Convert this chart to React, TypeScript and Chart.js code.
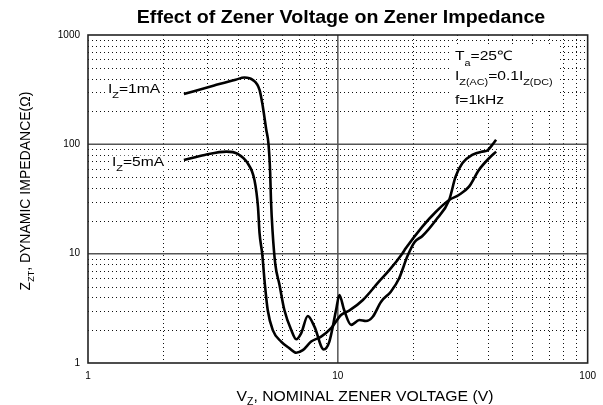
import React, { useEffect, useRef } from 'react';
import { Chart, registerables } from 'chart.js';

Chart.register(...registerables);

const TITLE = 'Effect of Zener Voltage on Zener Impedance';
const X_TICKS = [1, 10, 100];
const Y_TICKS = [1, 10, 100, 1000];

// I_Z = 1 mA
const V_1MA = [2.42, 3.2, 3.9, 4.23, 4.57, 4.86, 5.01, 5.17, 5.28, 5.36, 5.4, 5.48, 5.62, 5.84, 6.11, 6.51, 6.81, 7.13, 7.58, 8.06, 8.78, 9.25, 9.84, 10.14, 10.6, 11.3, 12.2, 12.96, 13.8, 14.9, 16.3, 17.6, 19.0, 20.3, 21.8, 24.7, 27.9, 29.6, 31.5, 34.5, 37.8, 39.6, 41.5, 43.0];
const Z_1MA = [289, 345, 390, 408, 388, 315, 221, 136, 100, 55, 31, 16, 8, 5.2, 3.05, 2.0, 1.65, 1.87, 2.69, 2.15, 1.33, 1.57, 3.05, 4.19, 3.05, 2.23, 2.47, 2.42, 2.65, 3.64, 4.49, 5.96, 9.5, 12.8, 14.5, 20.3, 31, 50.6, 67.2, 80, 85.8, 87.6, 98.8, 110];

// I_Z = 5 mA
const V_5MA = [2.42, 2.93, 3.58, 3.98, 4.36, 4.64, 4.79, 4.86, 4.98, 5.1, 5.24, 5.49, 5.93, 6.41, 6.81, 7.24, 7.82, 8.57, 9.4, 10.3, 11.1, 12.6, 14.6, 16.1, 18.1, 18.7, 21.8, 24.7, 27.9, 30.5, 33.5, 36.7, 40.3, 43.0];
const Z_5MA = [72, 80, 85.8, 81.7, 67, 47, 26.9, 15.4, 10, 5.36, 3.05, 2.0, 1.57, 1.36, 1.24, 1.31, 1.57, 1.74, 2.08, 2.75, 3.01, 3.77, 5.54, 7.1, 10, 11.2, 17.7, 24.2, 31, 34.4, 41, 58.3, 74.6, 85.8];

const FAMILY = '"Liberation Sans", Arial, Helvetica, sans-serif';

type Part = { t: string; sub?: boolean };

function partsWidth(ctx: CanvasRenderingContext2D, parts: Part[], size: number, subSize: number, weight: string) {
  let w = 0;
  for (const p of parts) {
    ctx.font = `${weight} ${p.sub ? subSize : size}px ${FAMILY}`;
    w += ctx.measureText(p.t).width;
  }
  return w;
}

function drawRich(
  ctx: CanvasRenderingContext2D,
  parts: Part[],
  x: number,
  y: number,
  o: { size: number; subSize?: number; subDy?: number; sx?: number; align?: 'left' | 'center'; weight?: string; rotate?: boolean; erase?: boolean }
) {
  const size = o.size;
  const subSize = o.subSize ?? Math.round(size * 0.65);
  const subDy = o.subDy ?? 4;
  const sx = o.sx ?? 1;
  const weight = o.weight ?? 'normal';
  ctx.save();
  ctx.translate(x, y);
  ctx.scale(sx, 1);
  if (o.rotate) ctx.rotate(-Math.PI / 2);
  const w = partsWidth(ctx, parts, size, subSize, weight);
  let cx = o.align === 'center' ? -w / 2 : 0;
  if (o.erase) {
    ctx.fillStyle = '#fff';
    ctx.fillRect(cx - 2, -size * 0.8, w + 4, size * 1.2);
  }
  ctx.textAlign = 'left';
  ctx.textBaseline = 'alphabetic';
  ctx.fillStyle = '#000';
  for (const p of parts) {
    ctx.font = `${weight} ${p.sub ? subSize : size}px ${FAMILY}`;
    ctx.fillText(p.t, cx, p.sub ? subDy : 0);
    cx += ctx.measureText(p.t).width;
  }
  ctx.restore();
}

const isDecade = (v: number) => Math.abs(Math.log10(v) - Math.round(Math.log10(v))) < 1e-9;

const decorPlugin = {
  id: 'decor',
  beforeDatasetsDraw(chart: any) {
    const ctx: CanvasRenderingContext2D = chart.ctx;
    const xs = chart.scales.x;
    const ys = chart.scales.y;
    const { left, right, top, bottom } = chart.chartArea;
    ctx.save();
    // minor dotted grid
    ctx.strokeStyle = '#111';
    ctx.lineWidth = 1;
    ctx.setLineDash([1, 3]);
    for (const d of [1, 10]) {
      for (let m = 2; m <= 9; m++) {
        const px = Math.round(xs.getPixelForValue(m * d)) + 0.5;
        ctx.beginPath();
        ctx.moveTo(px, top);
        ctx.lineTo(px, bottom);
        ctx.stroke();
      }
    }
    for (const d of [1, 10, 100]) {
      for (let m = 2; m <= 9; m++) {
        const py = Math.round(ys.getPixelForValue(m * d)) + 0.5;
        ctx.beginPath();
        ctx.moveTo(left, py);
        ctx.lineTo(right, py);
        ctx.stroke();
      }
    }
    // major solid grid
    ctx.setLineDash([]);
    ctx.strokeStyle = '#555';
    ctx.lineWidth = 1.5;
    for (const v of X_TICKS.slice(1, -1)) {
      const px = xs.getPixelForValue(v);
      ctx.beginPath();
      ctx.moveTo(px, top);
      ctx.lineTo(px, bottom);
      ctx.stroke();
    }
    for (const v of Y_TICKS.slice(1, -1)) {
      const py = ys.getPixelForValue(v);
      ctx.beginPath();
      ctx.moveTo(left, py);
      ctx.lineTo(right, py);
      ctx.stroke();
    }
    // frame
    ctx.strokeStyle = '#222';
    ctx.lineWidth = 1.6;
    ctx.strokeRect(left, top, right - left, bottom - top);

    // condition box
    ctx.fillStyle = '#fff';
    ctx.fillRect(450, 45, 108, 65);
    const lsz = 13;
    const lsx = 1.2;
    drawRich(ctx, [{ t: 'T' }, { t: 'a', sub: true }, { t: '=25℃' }], 455, 60, { size: lsz, subSize: 9, subDy: 6, sx: lsx });
    drawRich(ctx, [{ t: 'I' }, { t: 'Z(AC)', sub: true }, { t: '=0.1I' }, { t: 'Z(DC)', sub: true }], 455, 79.5, { size: lsz, subSize: 9, subDy: 5, sx: lsx });
    drawRich(ctx, [{ t: 'f=1kHz' }], 455, 104, { size: lsz, sx: lsx });

    // curve labels
    drawRich(ctx, [{ t: 'I' }, { t: 'Z', sub: true }, { t: '=1mA' }], 108, 93, { size: lsz, subSize: 9, subDy: 4.5, sx: lsx, erase: true });
    drawRich(ctx, [{ t: 'I' }, { t: 'Z', sub: true }, { t: '=5mA' }], 112, 166, { size: lsz, subSize: 9, subDy: 4.5, sx: lsx, erase: true });
    ctx.restore();
  },
  afterDraw(chart: any) {
    const ctx: CanvasRenderingContext2D = chart.ctx;
    drawRich(ctx, [{ t: TITLE }], 341, 22.5, { size: 18, weight: 'bold', sx: 1.09, align: 'center' });
    drawRich(ctx, [{ t: 'V' }, { t: 'Z', sub: true }, { t: ', NOMINAL ZENER VOLTAGE (V)' }], 365, 401, { size: 15, subSize: 10, subDy: 4, sx: 1.05, align: 'center' });
    drawRich(ctx, [{ t: 'Z' }, { t: 'ZT', sub: true }, { t: ', DYNAMIC IMPEDANCE(Ω)' }], 30, 191, { size: 14, subSize: 9, subDy: 4, sx: 1.05, align: 'center', rotate: true });
  },
};

export default function App() {
  const ref = useRef<HTMLCanvasElement>(null);
  useEffect(() => {
    if (!ref.current) return;
    const chart = new Chart(ref.current, {
      type: 'scatter',
      data: {
        datasets: [
          {
            label: 'IZ=1mA',
            data: V_1MA.map((v, i) => ({ x: v, y: Z_1MA[i] })),
            showLine: true,
            borderColor: '#000',
            backgroundColor: '#000',
            borderWidth: 2.6,
            pointRadius: 0,
            cubicInterpolationMode: 'monotone',
            fill: false,
          },
          {
            label: 'IZ=5mA',
            data: V_5MA.map((v, i) => ({ x: v, y: Z_5MA[i] })),
            showLine: true,
            borderColor: '#000',
            backgroundColor: '#000',
            borderWidth: 2.6,
            pointRadius: 0,
            cubicInterpolationMode: 'monotone',
            fill: false,
          },
        ],
      },
      options: {
        responsive: false,
        animation: false,
        events: [],
        layout: { padding: { left: 0, top: 35, right: 14, bottom: 0 } },
        plugins: { legend: { display: false }, tooltip: { enabled: false }, title: { display: false } },
        scales: {
          x: {
            type: 'logarithmic',
            min: 1,
            max: 100,
            grid: { display: false, drawTicks: false, tickLength: 0 },
            border: { display: false },
            ticks: {
              autoSkip: false,
              maxRotation: 0,
              padding: 7,
              color: '#000',
              font: { size: 10, family: FAMILY },
              callback: (v: any) => (isDecade(Number(v)) && X_TICKS.includes(Math.round(Number(v))) ? String(Math.round(Number(v))) : ''),
            },
            afterFit: (s: any) => {
              s.height = 42;
            },
          },
          y: {
            type: 'logarithmic',
            min: 1,
            max: 1000,
            grid: { display: false, drawTicks: false, tickLength: 0 },
            border: { display: false },
            ticks: {
              autoSkip: false,
              padding: 8,
              color: '#000',
              font: { size: 10, family: FAMILY },
              callback: (v: any) => (isDecade(Number(v)) && Y_TICKS.includes(Math.round(Number(v))) ? String(Math.round(Number(v))) : ''),
            },
            afterFit: (s: any) => {
              s.width = 88;
            },
          },
        },
      },
      plugins: [decorPlugin],
    } as any);
    return () => chart.destroy();
  }, []);
  return (
    <div style={{ position: 'fixed', left: 0, top: 0, width: 603, height: 405, background: '#fff' }}>
      <canvas ref={ref} width={603} height={405} style={{ display: 'block' }} />
    </div>
  );
}
